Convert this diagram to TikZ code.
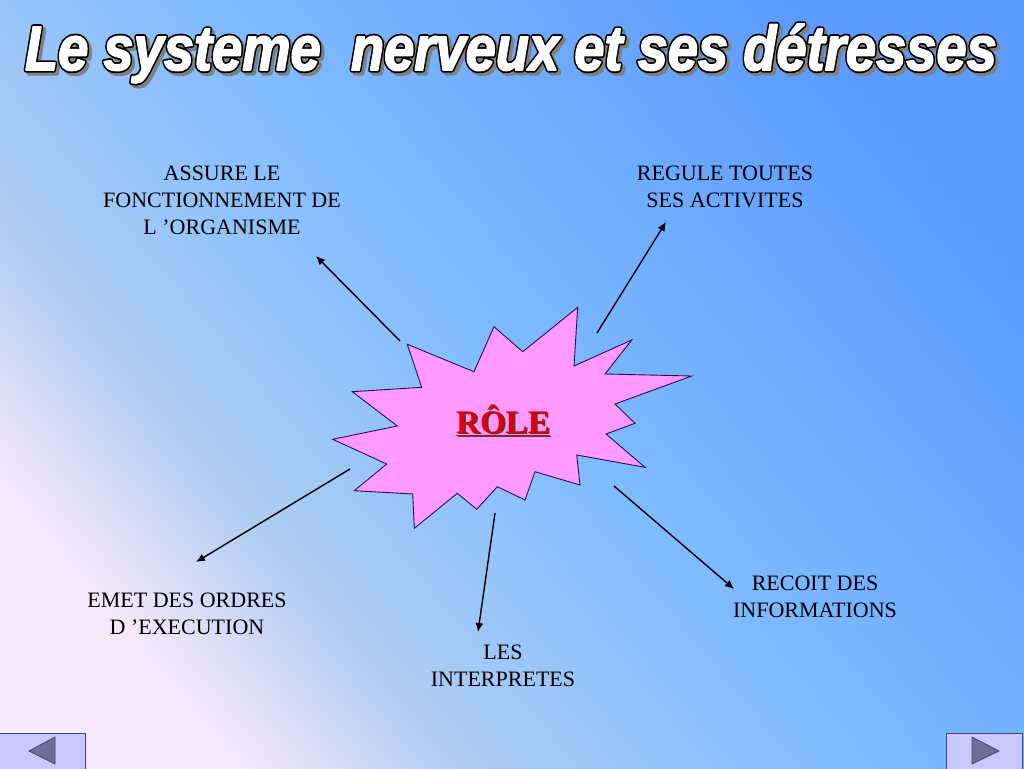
\documentclass[tikz,border=0pt]{standalone}
\usepackage{fontspec}
\setmainfont{Liberation Serif}
\newfontfamily\titlefont{Liberation Sans}
\usetikzlibrary{arrows.meta}
\definecolor{bgA}{RGB}{246,232,250}
\definecolor{bgM}{RGB}{175,205,242}
\definecolor{bgB}{RGB}{128,188,255}
\definecolor{bgC}{RGB}{92,155,255}
\definecolor{starpink}{RGB}{255,153,255}
\definecolor{staredge}{RGB}{40,20,70}
\definecolor{rolered}{RGB}{225,0,0}
\definecolor{btnfill}{RGB}{200,200,255}
\definecolor{btnedge}{RGB}{70,70,110}
\definecolor{btntri}{RGB}{110,110,150}
\pgfdeclarehorizontalshading{bgshade}{100bp}{color(0bp)=(bgA); color(25bp)=(bgA); color(34bp)=(bgM); color(50bp)=(bgB); color(75bp)=(bgC); color(100bp)=(bgC)}
\newcommand\mytitle{\resizebox{972pt}{46pt}{\titlefont\fontsize{60}{60}\selectfont\bfseries\itshape Le systeme\ \ nerveux et ses détresses}}
% #1 = stroke width, #2 = stroke colour (pdf operator)
\newcommand\strokedtitle[2]{\special{pdf:literal direct q 2 Tr #1 w #2 1 j}\mytitle\special{pdf:literal direct Q}}
\tikzset{
  lbl/.style={align=center, font=\fontsize{22}{27}\selectfont, inner sep=0pt},
  arr/.style={line width=1.4pt, -{Latex[length=9pt,width=8pt]}},
  btn/.style={fill=btnfill, draw=btnedge, line width=1pt},
  tri/.style={fill=btntri, draw=btnedge, line width=0.8pt},
  ttl/.style={anchor=base, inner sep=0pt}
}
\begin{document}
\begin{tikzpicture}[x=1pt,y=-1pt]
\useasboundingbox (0,0) rectangle (1024,768);
\shade[shading=bgshade, shading angle=40] (0,0) rectangle (1024,768);
% title: shadow, black outline, white letters
\node[ttl, text=black!50] at (514,73) {\strokedtitle{5}{0.5 0.5 0.5 RG}};
\node[ttl, text=black] at (511,70) {\strokedtitle{5}{0 0 0 RG}};
\node[ttl, text=white] (title) at (511,70) {\strokedtitle{1.6}{1 1 1 RG}};
% star
\draw[fill=starpink, draw=staredge, line width=0.9pt]
 (407.3,344.3) -- (474,371.7) -- (494,326.7) -- (522.7,351.7) -- (577.7,307.3)
 -- (574,366) -- (631.7,340) -- (605,374) -- (691.7,376) -- (615,404)
 -- (635,423.3) -- (606,434) -- (645,467.3) -- (576.7,455) -- (580,485)
 -- (535,471.7) -- (525,500) -- (497.3,486.7) -- (476.7,509.3) -- (457.3,493.3)
 -- (414.3,528.3) -- (412.7,494) -- (354.3,490.7) -- (386.7,464) -- (332.7,439.3)
 -- (397.3,426) -- (352.3,391.7) -- (421.7,387.3) -- cycle;
\node[text=black!75, font=\fontsize{33}{36}\selectfont\bfseries, inner sep=0pt] at (504.5,421.5) {\underline{RÔLE}};
\node[text=rolered, font=\fontsize{33}{36}\selectfont\bfseries, inner sep=0pt] (role) at (503,420) {\underline{RÔLE}};
% labels
\node[lbl] (assure) at (222,200) {ASSURE LE\\FONCTIONNEMENT DE\\L ’ORGANISME};
\node[lbl] (regule) at (725,187) {REGULE TOUTES\\SES ACTIVITES};
\node[lbl] (emet) at (187,614) {EMET DES ORDRES\\D ’EXECUTION};
\node[lbl] (les) at (503,666) {LES\\INTERPRETES};
\node[lbl] (recoit) at (815,597) {RECOIT DES\\INFORMATIONS};
% arrow ends
\coordinate (s1) at (400,341); \coordinate (e1) at (316,256);
\coordinate (s2) at (597,333); \coordinate (e2) at (666,222);
\coordinate (s3) at (350,469); \coordinate (e3) at (196,562);
\coordinate (s4) at (495,513); \coordinate (e4) at (478,632);
\coordinate (s5) at (614,486); \coordinate (e5) at (734,589);
\draw[arr] (s1) -- (e1);
\draw[arr] (s2) -- (e2);
\draw[arr] (s3) -- (e3);
\draw[arr] (s4) -- (e4);
\draw[arr] (s5) -- (e5);
% nav buttons
\draw[btn] (-2,733.5) rectangle (85,770) ;
\draw[tri] (29,751) -- (55,737) -- (55,764) -- cycle;
\draw[btn] (946,733.5) rectangle (1022,770);
\draw[tri] (999,751) -- (972,737) -- (972,764) -- cycle;
\end{tikzpicture}
\end{document}
